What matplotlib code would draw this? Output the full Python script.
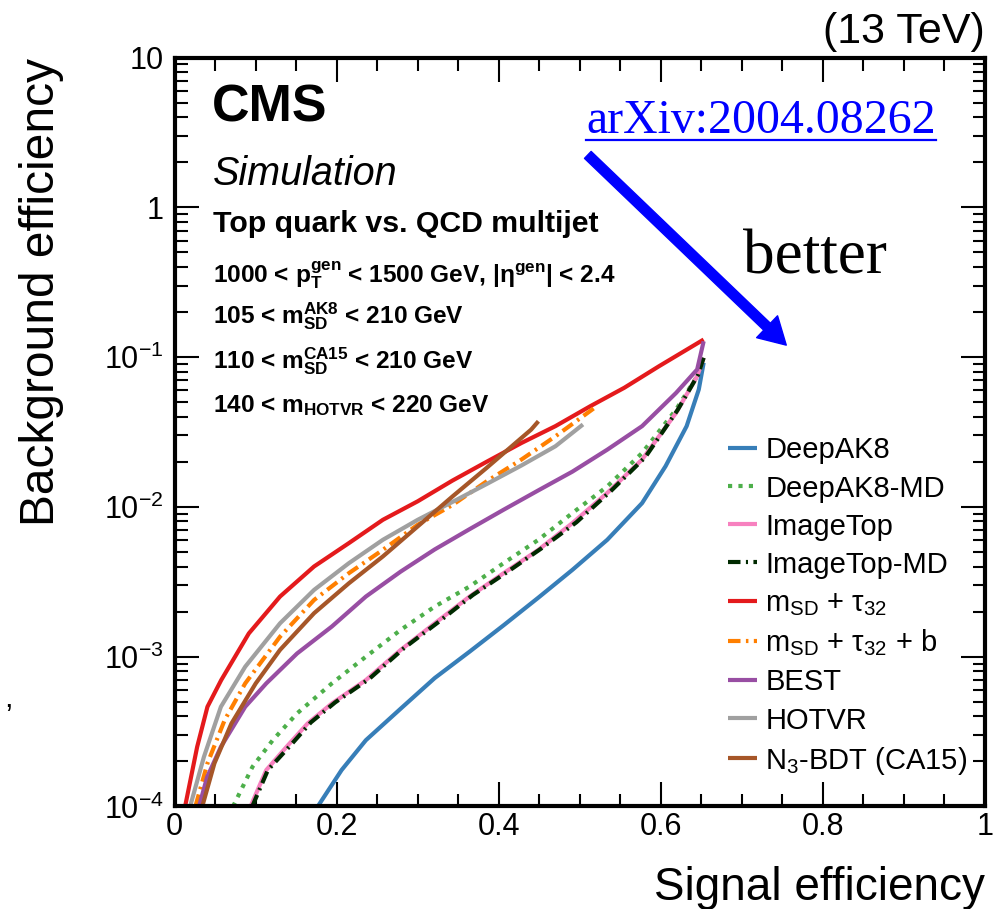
import matplotlib
matplotlib.use("Agg")
import matplotlib.pyplot as plt
from matplotlib.patches import FancyArrowPatch
from matplotlib.ticker import LogLocator, MultipleLocator, NullFormatter

plt.rcParams["font.family"] = ["Liberation Sans", "DejaVu Sans"]
plt.rcParams["mathtext.default"] = "regular"

# ROC curves: signal efficiency (x) vs background efficiency (y)
deepak8_x = [0.1766, 0.206, 0.236, 0.279, 0.321, 0.364, 0.406, 0.449, 0.491, 0.534,
             0.577, 0.606, 0.632, 0.647, 0.653]
deepak8_y = [1.0e-4, 1.75e-4, 2.77e-4, 4.5e-4, 7.2e-4, 1.08e-3, 1.62e-3, 2.48e-3, 3.80e-3, 6.03e-3,
             1.06e-2, 1.87e-2, 3.46e-2, 6.08e-2, 0.0917]

deepak8_md_x = [0.072, 0.096, 0.121, 0.151, 0.194, 0.236, 0.279, 0.321, 0.364, 0.406,
                0.449, 0.491, 0.534, 0.577, 0.619, 0.645, 0.653]
deepak8_md_y = [1.0e-4, 1.84e-4, 2.77e-4, 4.18e-4, 6.63e-4, 1.0e-3, 1.51e-3, 2.16e-3, 2.94e-3, 4.21e-3,
                6.03e-3, 9.1e-3, 1.37e-2, 2.29e-2, 4.47e-2, 7.46e-2, 0.1016]

imagetop_x = [0.0936, 0.113, 0.138, 0.164, 0.194, 0.236, 0.279, 0.321, 0.364, 0.406,
              0.449, 0.491, 0.534, 0.577, 0.619, 0.645, 0.653]
imagetop_y = [1.0e-4, 1.75e-4, 2.50e-4, 3.58e-4, 4.87e-4, 6.98e-4, 1.11e-3, 1.67e-3, 2.52e-3, 3.61e-3,
              5.17e-3, 7.8e-3, 1.24e-2, 2.07e-2, 4.25e-2, 7.46e-2, 0.099]

imagetop_md_x = [0.0957, 0.115, 0.143, 0.168, 0.198, 0.240, 0.283, 0.326, 0.368, 0.411,
                 0.453, 0.496, 0.538, 0.581, 0.621, 0.646, 0.653]
imagetop_md_y = [1.0e-4, 1.75e-4, 2.56e-4, 3.64e-4, 4.95e-4, 7.1e-4, 1.14e-3, 1.71e-3, 2.58e-3, 3.69e-3,
                 5.3e-3, 7.9e-3, 1.27e-2, 2.15e-2, 4.45e-2, 7.6e-2, 0.099]

msd_tau32_x = [0.0128, 0.0277, 0.0404, 0.0574, 0.0915, 0.130, 0.172, 0.215, 0.257, 0.300,
               0.343, 0.385, 0.428, 0.470, 0.513, 0.555, 0.598, 0.653]
msd_tau32_y = [1.0e-4, 2.50e-4, 4.63e-4, 6.98e-4, 1.43e-3, 2.52e-3, 4.0e-3, 5.73e-3, 8.2e-3, 1.09e-2,
               1.50e-2, 2.0e-2, 2.67e-2, 3.46e-2, 4.70e-2, 6.24e-2, 8.70e-2, 0.131]

msd_tau32_b_x = [0.0255, 0.0404, 0.0617, 0.087, 0.130, 0.172, 0.215, 0.257, 0.300, 0.343,
                 0.385, 0.428, 0.470, 0.521]
msd_tau32_b_y = [1.0e-4, 1.94e-4, 3.78e-4, 6.63e-4, 1.36e-3, 2.39e-3, 3.61e-3, 5.17e-3, 7.6e-3, 1.03e-2,
                 1.48e-2, 2.07e-2, 2.96e-2, 4.70e-2]

best_x = [0.030, 0.040, 0.057, 0.087, 0.113, 0.151, 0.194, 0.236, 0.279, 0.321,
          0.364, 0.406, 0.449, 0.491, 0.534, 0.577, 0.619, 0.645, 0.653]
best_y = [1.0e-4, 1.57e-4, 2.50e-4, 4.63e-4, 6.63e-4, 1.05e-3, 1.59e-3, 2.52e-3, 3.70e-3, 5.2e-3,
          7.1e-3, 9.57e-3, 1.29e-2, 1.72e-2, 2.41e-2, 3.46e-2, 5.77e-2, 8.27e-2, 0.1275]

hotvr_x = [0.019, 0.036, 0.057, 0.087, 0.130, 0.172, 0.215, 0.257, 0.300, 0.343,
           0.385, 0.428, 0.470, 0.504]
hotvr_y = [1.0e-4, 2.14e-4, 4.63e-4, 8.57e-4, 1.67e-3, 2.79e-3, 4.21e-3, 6.03e-3, 8.2e-3, 1.08e-2,
           1.42e-2, 1.89e-2, 2.54e-2, 3.55e-2]

n3bdt_x = [0.034, 0.049, 0.070, 0.100, 0.130, 0.172, 0.215, 0.257, 0.300, 0.343,
           0.385, 0.419, 0.440, 0.449]
n3bdt_y = [1.0e-4, 1.94e-4, 3.58e-4, 6.63e-4, 1.11e-3, 1.95e-3, 3.09e-3, 4.67e-3, 7.41e-3, 1.175e-2,
           1.82e-2, 2.62e-2, 3.28e-2, 3.73e-2]

xtick_vals = [0, 0.2, 0.4, 0.6, 0.8, 1.0]
xtick_labels = ["0", "0.2", "0.4", "0.6", "0.8", "1"]
ytick_vals = [1e-4, 1e-3, 1e-2, 1e-1, 1, 10]
ytick_labels = [r"10$^{-4}$", r"10$^{-3}$", r"10$^{-2}$", r"10$^{-1}$", "1", "10"]

curves = [
    ("DeepAK8", deepak8_x, deepak8_y, dict(color="#377eb8", ls="-")),
    ("DeepAK8-MD", deepak8_md_x, deepak8_md_y, dict(color="#4daf4a", ls=(0, (1, 1.5)))),
    ("ImageTop", imagetop_x, imagetop_y, dict(color="#f781bf", ls="-")),
    ("ImageTop-MD", imagetop_md_x, imagetop_md_y, dict(color="#002a00", ls=(0, (3, 1.3, 0.5, 1.3)))),
    (r"m$_{SD}$ + $\tau_{32}$", msd_tau32_x, msd_tau32_y, dict(color="#e41a1c", ls="-")),
    (r"m$_{SD}$ + $\tau_{32}$ + b", msd_tau32_b_x, msd_tau32_b_y,
     dict(color="#ff7f00", ls=(0, (3, 1.3, 0.6, 1.3)))),
    ("BEST", best_x, best_y, dict(color="#984ea3", ls="-")),
    ("HOTVR", hotvr_x, hotvr_y, dict(color="#a0a0a0", ls="-")),
    (r"N$_{3}$-BDT (CA15)", n3bdt_x, n3bdt_y, dict(color="#a65628", ls="-")),
]

fig = plt.figure(figsize=(9.99, 9.09), dpi=100)
ax = fig.add_axes([0.1749, 0.1128, 0.8108, 0.8239])

for label, xs, ys, style in curves:
    ax.plot(xs, ys, lw=3, label=label, solid_capstyle="butt", dash_capstyle="butt",
            solid_joinstyle="round", **style)

ax.set_yscale("log")
ax.set_xlim(0, 1)
ax.set_ylim(1e-4, 10)
ax.set_xticks(xtick_vals, xtick_labels)
ax.set_yticks(ytick_vals, ytick_labels)
ax.xaxis.set_minor_locator(MultipleLocator(0.05))
ax.yaxis.set_minor_locator(LogLocator(base=10, subs=range(2, 10), numticks=20))
ax.yaxis.set_minor_formatter(NullFormatter())

ax.tick_params(which="both", direction="in", top=True, right=True, width=1.5, labelsize=22)
ax.tick_params(which="major", length=17)
ax.tick_params(which="minor", length=9)
ax.tick_params(axis="x", pad=4)
ax.tick_params(axis="y", pad=8)
for sp in ax.spines.values():
    sp.set_linewidth(3)

ax.set_xlabel("Signal efficiency", fontsize=33, loc="right", va="baseline")
ax.xaxis.set_label_coords(1.0, -0.1248)
ax.set_ylabel("Background efficiency", fontsize=34.5, loc="top")
ax.yaxis.set_label_coords(-0.137, 1.0)

ax.text(1.0, 1.019, "(13 TeV)", transform=ax.transAxes, ha="right", va="baseline", fontsize=31)
ax.text(0.046, 0.914, "CMS", transform=ax.transAxes, fontsize=37.5, fontweight="bold", va="baseline")
ax.text(0.047, 0.830, "Simulation", transform=ax.transAxes, fontsize=28.5, style="italic", va="baseline")
ax.text(0.047, 0.767, "Top quark vs. QCD multijet", transform=ax.transAxes,
        fontsize=21.8, fontweight="bold", va="baseline")
cuts = [
    r"1000 < p$_{T}^{gen}$ < 1500 GeV, |$\eta^{gen}$| < 2.4",
    r"105 < m$_{SD}^{AK8}$ < 210 GeV",
    r"110 < m$_{SD}^{CA15}$ < 210 GeV",
    r"140 < m$_{HOTVR}$ < 220 GeV",
]
for txt, yy in zip(cuts, [0.700, 0.6455, 0.585, 0.527]):
    ax.text(0.047, yy, txt, transform=ax.transAxes, fontsize=17.6, fontweight="bold", va="baseline")

arxiv = ax.text(0.508, 0.899, "arXiv:2004.08262", transform=ax.transAxes, fontsize=34.5,
                family="Liberation Serif", color="#0000ff", va="baseline")
ax.text(0.702, 0.712, "better", transform=ax.transAxes, fontsize=45.5,
        family="Liberation Serif", va="baseline")

# underline the reference link
fig.canvas.draw()
bb = arxiv.get_window_extent(fig.canvas.get_renderer()).transformed(ax.transAxes.inverted())
ax.plot([bb.x0, bb.x1], [0.8897, 0.8897], transform=ax.transAxes, color="#0000ff",
        lw=1.6, clip_on=False)

arrow = FancyArrowPatch((0.510, 0.870), (0.755, 0.616), transform=ax.transAxes,
                        arrowstyle="simple,head_length=0.58,head_width=0.66,tail_width=0.21",
                        mutation_scale=33, color="#0000ff", shrinkA=0, shrinkB=0)
ax.add_patch(arrow)

ax.legend(loc="upper left", bbox_to_anchor=(0.683, 0.494), frameon=False, fontsize=21,
          handlelength=1.0, handletextpad=0.28, labelspacing=0.345, borderpad=0, borderaxespad=0)

fig.text(0.004, 0.222, ",", fontsize=22)

fig.savefig("out.png", dpi=100)
